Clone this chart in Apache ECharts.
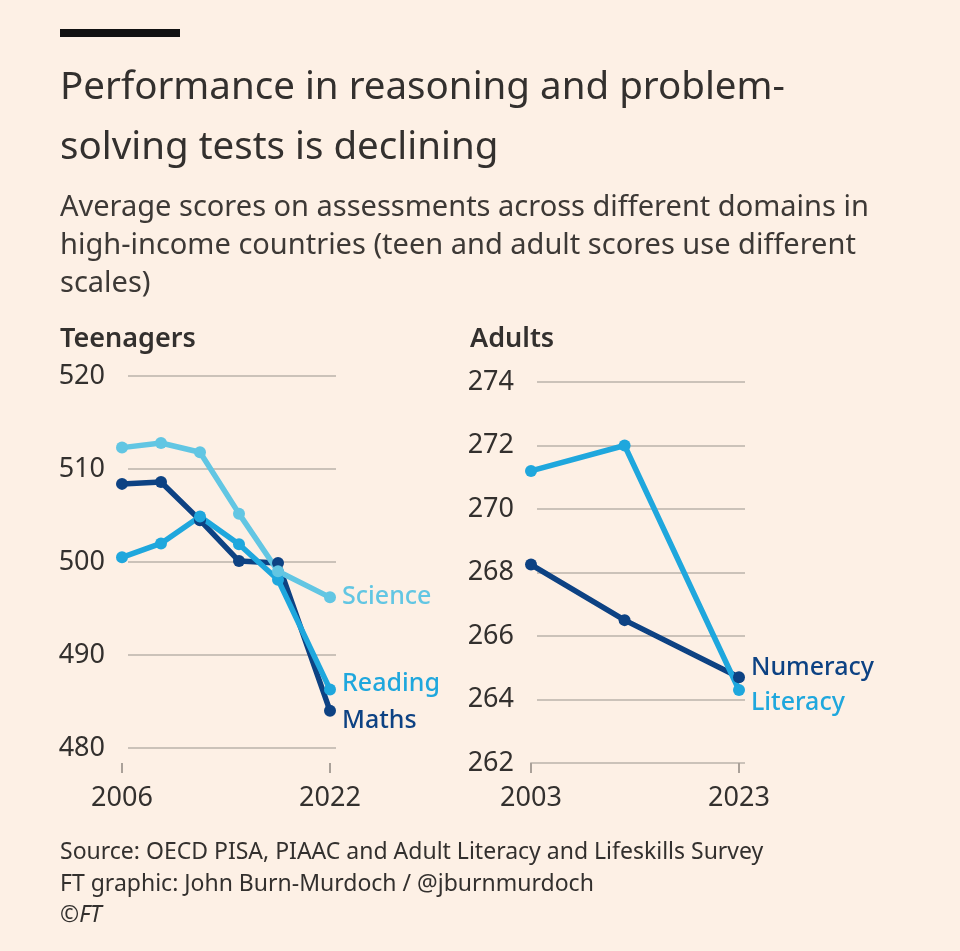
<!DOCTYPE html>
<html>
<head>
<meta charset="utf-8">
<script src="https://cdn.jsdelivr.net/npm/echarts@6/dist/echarts.min.js"></script>
<style>
  html, body { margin: 0; padding: 0; background: #fdf0e5; }
  #chart { width: 960px; height: 951px; }
</style>
</head>
<body>
<div id="chart"></div>
<script>
// teenagers (PISA)
const teenYears = [2006, 2009, 2012, 2015, 2018, 2022];
const science = [512.3, 512.8, 511.8, 505.2, 499.0, 496.2];
const maths = [508.4, 508.6, 504.5, 500.1, 499.9, 484.0];
const reading = [500.5, 502.0, 504.9, 501.9, 498.1, 486.3];
const teenXLabels = [2006, 2022];

// adults (PIAAC / ALL)
const adultYears = [2003, 2012, 2023];
const numeracy = [268.25, 266.5, 264.7];
const literacy = [271.2, 272.0, 264.3];
const adultXLabels = [2003, 2023];

const FONT = 'Noto Sans';
const INK = '#33302e';
const GRID = '#cbc2b9';
const TICK = '#aaa199';

const pairs = (xs, ys) => xs.map((x, i) => [x, ys[i]]);

const lineSeries = (name, data, color, xIdx, yIdx, offset) => ({
  name,
  type: 'line',
  xAxisIndex: xIdx,
  yAxisIndex: yIdx,
  data,
  symbol: 'circle',
  symbolSize: 12,
  lineStyle: { width: 5.5, color },
  itemStyle: { color },
  animation: false,
  endLabel: {
    show: true,
    formatter: name,
    color,
    fontFamily: FONT,
    fontSize: 25,
    fontWeight: 500,
    distance: 12,
    offset
  }
});

const chart = echarts.init(document.getElementById('chart'));

// y is the visual centre of the text line
const txt = (x, y, text, size, opts) => ({
  type: 'text',
  left: x,
  top: y - size / 2,
  style: Object.assign({
    text,
    fontFamily: FONT,
    fontSize: size,
    fill: INK
  }, opts || {})
});

const yearLabel = {
  fontFamily: FONT, fontSize: 27, color: INK, margin: 22,
  formatter: v => String(v)
};
const scoreLabel = { fontFamily: FONT, fontSize: 27, color: INK, margin: 23 };

chart.setOption({
  backgroundColor: '#fdf0e5',
  animation: false,
  grid: [
    { left: 128, top: 376, width: 208, height: 372 },   // teen gridlines
    { left: 122, top: 376, width: 208, height: 372 },   // teen data
    { left: 537, top: 382, width: 208, height: 381 },   // adult gridlines
    { left: 531, top: 382, width: 208, height: 381 }    // adult data
  ],
  xAxis: [
    { gridIndex: 0, type: 'value', min: 2006, max: 2022, show: false },
    {
      gridIndex: 1, type: 'value', min: 2006, max: 2022, offset: 15,
      axisLine: { show: false },
      splitLine: { show: false },
      axisTick: { show: true, customValues: teenXLabels, length: 10, lineStyle: { color: TICK, width: 2 } },
      axisLabel: Object.assign({ customValues: teenXLabels }, yearLabel)
    },
    { gridIndex: 2, type: 'value', min: 2003, max: 2023, show: false },
    {
      gridIndex: 3, type: 'value', min: 2003, max: 2023,
      axisLine: { show: true, lineStyle: { color: GRID, width: 2 } },
      splitLine: { show: false },
      axisTick: { show: true, customValues: adultXLabels, length: 10, lineStyle: { color: TICK, width: 2 } },
      axisLabel: Object.assign({ customValues: adultXLabels }, yearLabel)
    }
  ],
  yAxis: [
    {
      gridIndex: 0, type: 'value', min: 480, max: 520, interval: 10,
      axisLine: { show: false }, axisTick: { show: false },
      splitLine: { lineStyle: { color: GRID, width: 2 } },
      axisLabel: scoreLabel
    },
    { gridIndex: 1, type: 'value', min: 480, max: 520, show: false, splitLine: { show: false } },
    {
      gridIndex: 2, type: 'value', min: 262, max: 274, interval: 2,
      axisLine: { show: false }, axisTick: { show: false },
      splitLine: { lineStyle: { color: GRID, width: 2 } },
      axisLabel: scoreLabel
    },
    { gridIndex: 3, type: 'value', min: 262, max: 274, show: false, splitLine: { show: false } }
  ],
  series: [
    lineSeries('Maths', pairs(teenYears, maths), '#0d4283', 1, 1, [0, 10]),
    lineSeries('Reading', pairs(teenYears, reading), '#1fa7dd', 1, 1, [0, -6]),
    lineSeries('Science', pairs(teenYears, science), '#62c6e3', 1, 1, [0, 0]),
    lineSeries('Numeracy', pairs(adultYears, numeracy), '#0d4283', 3, 3, [0, -9]),
    lineSeries('Literacy', pairs(adultYears, literacy), '#1fa7dd', 3, 3, [0, 13])
  ],
  graphic: [
    { type: 'rect', left: 60, top: 29, shape: { width: 120, height: 8 }, style: { fill: '#111' } },
    txt(60, 88, 'Performance in reasoning and problem-', 38.5),
    txt(60, 148, 'solving tests is declining', 38.5),
    txt(60, 208, 'Average scores on assessments across different domains in', 29, { fill: '#3d3936' }),
    txt(60, 246, 'high-income countries (teen and adult scores use different', 29, { fill: '#3d3936' }),
    txt(60, 284, 'scales)', 29, { fill: '#3d3936' }),
    txt(60, 339, 'Teenagers', 27, { fontWeight: 600 }),
    txt(470, 339, 'Adults', 27, { fontWeight: 600 }),
    txt(60, 852, 'Source: OECD PISA, PIAAC and Adult Literacy and Lifeskills Survey', 23),
    txt(60, 884, 'FT graphic: John Burn-Murdoch / @jburnmurdoch', 23),
    txt(60, 915, '\u00a9FT', 23, { fontStyle: 'italic' })
  ]
});
</script>
</body>
</html>
